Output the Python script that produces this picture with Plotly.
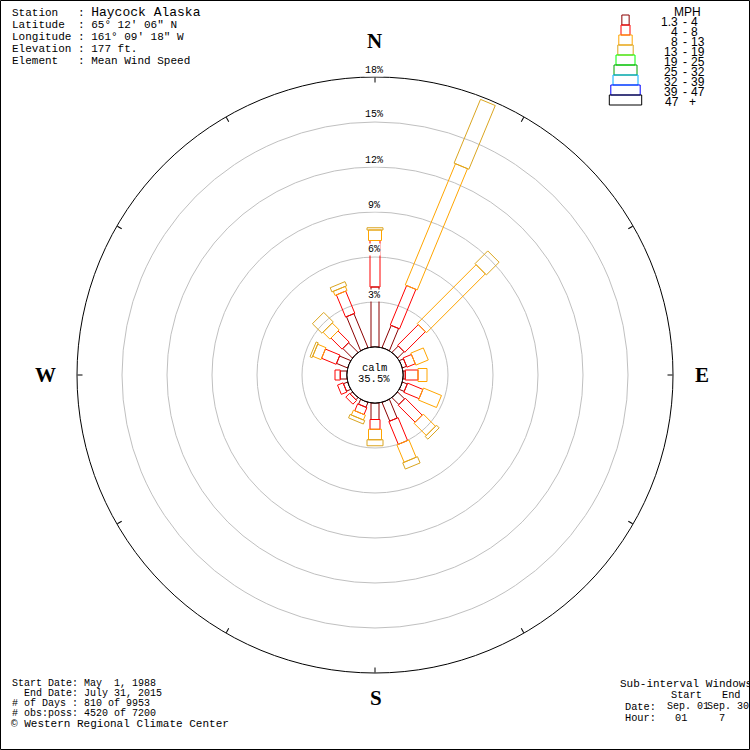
import math
import plotly.graph_objects as go

# ---------------- data ----------------
directions = [0, 22.5, 45, 67.5, 90, 112.5, 135, 157.5,
              180, 202.5, 225, 247.5, 270, 292.5, 315, 337.5]

speed_classes = ["1.3 - 4", "4 - 8", "8 - 13", "13 - 19", "19 - 25",
                 "25 - 32", "32 - 39", "39 - 47", "47 +"]
class_colors = ["#8b0000", "#ff0000", "#ffa500", "#daa520", "#00ff00",
                "#00a000", "#00aaff", "#0000ff", "#000000"]

# percent of observations per direction and speed class
pct_1_4 = [4.0, 1.6, 0.6, 0.3, 0.15, 0.35, 0.65, 1.35,
           1.1, 0.35, 0.2, 0.3, 0.45, 0.8, 0.9, 2.45]
pct_4_8 = [3.1, 2.85, 1.95, 0.6, 0.85, 1.1, 1.6, 1.65,
           0.65, 0.5, 0.35, 0.4, 0.35, 1.05, 1.05, 1.6]
pct_8_13 = [0.7, 8.75, 5.55, 0.9, 0.6, 1.3, 1.15, 1.25,
            0.7, 0.35, 0.0, 0.0, 0.0, 0.6, 0.65, 0.3]
pct_13_19 = [0.15, 4.6, 1.2, 0.0, 0.0, 0.0, 0.25, 0.45,
             0.4, 0.25, 0.0, 0.0, 0.0, 0.15, 0.9, 0.3]
zeros = [0.0] * 16
pct_19_25 = zeros
pct_25_32 = zeros
pct_32_39 = zeros
pct_39_47 = zeros
pct_47_up = zeros
series = [pct_1_4, pct_4_8, pct_8_13, pct_13_19, pct_19_25,
          pct_25_32, pct_32_39, pct_39_47, pct_47_up]

calm_pct = 35.5
ring_ticks = [3, 6, 9, 12, 15]
ring_max = 18

station_lines = [
    ("Station", "Haycock Alaska"),
    ("Latitude", "65° 12' 06\" N"),
    ("Longitude", "161° 09' 18\" W"),
    ("Elevation", "177 ft."),
    ("Element", "Mean Wind Speed"),
]
period_lines = [
    "Start Date: May  1, 1988",
    "  End Date: July 31, 2015",
    "# of Days : 810 of 9953",
    "# obs:poss: 4520 of 7200",
]

# ---------------- layout constants ----------------
W = H = 750
CX, CY = 375, 375
R_PX = 298
HOLE_PX = 28
K = (R_PX - HOLE_PX) / ring_max          # px per percent
BAR_W = [8, 10, 13, 16, 19, 23, 25, 29, 32]   # px width of each speed class rect
LEG_W = [7.3, 9, 13.4, 15.4, 19, 23, 25, 29.4, 32.4]

NB = "\u00a0"


def px(x):
    return x / W


def py(y):
    return 1 - y / H


fig = go.Figure()

# bars: each speed-class segment drawn as a rectangle outline
for ci, vals in enumerate(series):
    rr, tt = [], []
    for di, ang in enumerate(directions):
        start = sum(series[k][di] for k in range(ci))
        v = vals[di]
        if v <= 0:
            continue
        d1 = HOLE_PX + K * start
        d2 = HOLE_PX + K * (start + v)
        s = BAR_W[ci] / 2
        for (d, o) in [(d1, -s), (d2, -s), (d2, s), (d1, s), (d1, -s)]:
            rho = math.hypot(d, o)
            rr.append((rho - HOLE_PX) / K)
            tt.append(ang + math.degrees(math.atan2(o, d)))
        rr.append(None)
        tt.append(None)
    if rr:
        fig.add_trace(go.Scatterpolar(
            r=rr, theta=tt, mode="lines",
            line=dict(color=class_colors[ci], width=1),
            hoverinfo="skip", cliponaxis=False, connectgaps=False))

# calm circle
fig.add_trace(go.Scatterpolar(
    r=[0] * 361, theta=list(range(361)), mode="lines",
    line=dict(color="black", width=1), hoverinfo="skip", cliponaxis=False))

fig.update_layout(
    width=W, height=H, autosize=False,
    margin=dict(l=0, r=0, t=0, b=0),
    paper_bgcolor="white", plot_bgcolor="white",
    showlegend=False,
    polar=dict(
        domain=dict(x=[px(CX - R_PX), px(CX + R_PX)],
                    y=[1 - px(CY + R_PX), 1 - px(CY - R_PX)]),
        hole=HOLE_PX / R_PX,
        bgcolor="white",
        radialaxis=dict(range=[0, ring_max], tickvals=ring_ticks,
                        showticklabels=False, ticks="", showline=False,
                        gridcolor="#c0c0c0", gridwidth=1),
        angularaxis=dict(rotation=90, direction="clockwise",
                         tickmode="linear", tick0=0, dtick=30,
                         ticks="inside", ticklen=5, tickcolor="black",
                         showticklabels=False, showgrid=False,
                         showline=True, linecolor="black", linewidth=1),
    ),
)

ann = []


def add_text(text, x, y, size, family="Liberation Mono", xanchor="left",
             bold=False, bg=None):
    d = dict(text=f"<b>{text}</b>" if bold else text,
             x=px(x), y=py(y), xref="paper", yref="paper",
             xanchor=xanchor, yanchor="middle", showarrow=False,
             font=dict(family=family, size=size, color="black"))
    if bg:
        d.update(bgcolor=bg, borderpad=0)
    ann.append(d)


# station block
pads = max(len(k) for k, _ in station_lines)
for i, (k, v) in enumerate(station_lines):
    label = (k + NB * (pads - len(k) + 1) + ":" + NB).replace(" ", NB)
    val = v.replace(" ", NB)
    if i == 0:
        val = f"<span style='font-size:13px'>{val}</span>"
    add_text(label + val, 10, 13 + 12 * i, 11)

# period block
for i, line in enumerate(period_lines):
    add_text(line.replace(" ", NB), 10, 683 + 10.3 * i, 10)
add_text("©" + NB + "Western Regional Climate Center".replace(" ", NB), 9, 724, 11)

# sub-interval block
add_text("Sub-interval Windows".replace(" ", NB), 618, 684, 11)
add_text("Start", 669, 695, 10.3)
add_text("End", 720, 695, 10.3)
add_text("Date:", 623, 706.5, 10.3)
add_text("Sep." + NB + "01", 665, 706.5, 10)
add_text("Sep." + NB + "30", 705, 706.5, 10)
add_text("Hour:", 623, 717.5, 10.3)
add_text("01", 673, 717.5, 10.3)
add_text("7", 717, 717.5, 10.3)

# cardinal directions
for t, x, y in [("N", 374.5, 41), ("E", 702, 375), ("S", 376, 698), ("W", 45, 375)]:
    add_text(t, x, y, 21, family="Liberation Serif", xanchor="center", bold=True)

# ring labels
for v in ring_ticks + [ring_max]:
    yy = CY - (HOLE_PX + K * v) - 7
    add_text(f"{v}%", 374, yy, 10, xanchor="center", bg="white")

# calm text
add_text("calm", 374, 367.5, 10.5, xanchor="center")
add_text(f"{calm_pct}%", 374, 378.5, 10.5, xanchor="center")

# legend
LEG_FONT = 12
add_text("MPH", 687, 12, LEG_FONT, family="Liberation Sans", xanchor="center")
shapes = []
for i, (lab, col) in enumerate(zip(speed_classes, class_colors)):
    y0 = 15 + 10 * i
    w = LEG_W[i]
    shapes.append(dict(type="rect", xref="paper", yref="paper",
                       x0=px(625.5 - w / 2), x1=px(625.5 + w / 2),
                       y0=py(y0), y1=py(y0 + 10),
                       line=dict(color=col, width=1),
                       fillcolor="rgba(0,0,0,0)"))
    ty = 22 + 10 * i
    if " - " in lab:
        a, b = lab.split(" - ")
        add_text(a, 680, ty, LEG_FONT, family="Liberation Sans", xanchor="right")
        add_text("-", 684.5, ty, LEG_FONT, family="Liberation Sans", xanchor="center")
        add_text(b, 689, ty, LEG_FONT, family="Liberation Sans", xanchor="left")
    else:
        a, b = lab.split(" ")
        add_text(a, 681, ty, LEG_FONT, family="Liberation Sans", xanchor="right")
        add_text(b, 686.5, ty, LEG_FONT, family="Liberation Sans", xanchor="left")

# frame
shapes.append(dict(type="rect", xref="paper", yref="paper",
                   x0=px(0.5), x1=px(749.5), y0=py(749.5), y1=py(0.5),
                   line=dict(color="black", width=1),
                   fillcolor="rgba(0,0,0,0)"))

fig.update_layout(annotations=ann, shapes=shapes)
fig.write_html(
    "out.html",
    config={"displayModeBar": False, "staticPlot": True},
    post_script="document.body.style.margin='0';document.body.style.overflow='hidden';",
)
